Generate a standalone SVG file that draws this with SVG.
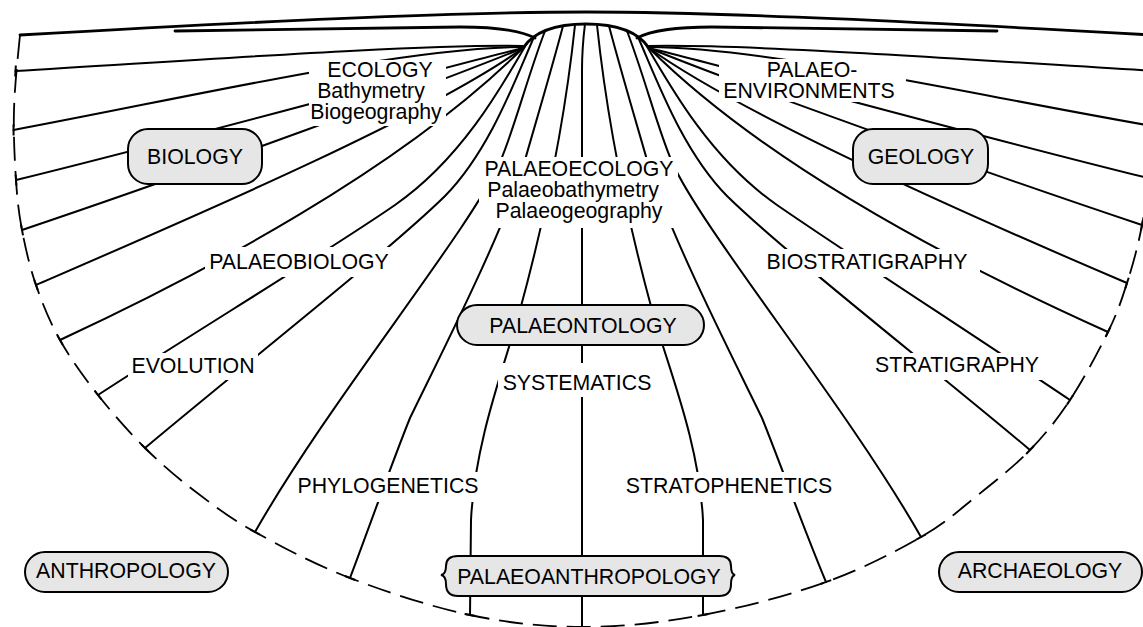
<svg xmlns="http://www.w3.org/2000/svg" width="1143" height="627" viewBox="0 0 1143 627">
<style>
.ln{fill:none;stroke:#000;stroke-width:2;stroke-linecap:round;stroke-linejoin:round}
.thick{fill:none;stroke:#000;stroke-width:2.8;stroke-linecap:round}
.arc{fill:none;stroke:#000;stroke-width:1.8;stroke-dasharray:24 10}
.tk{stroke:#000;stroke-width:2}
.bg{fill:#fff}
.node{fill:#e6e6e6;stroke:#000;stroke-width:2}
text{font-family:"Liberation Sans",Arial,Helvetica,sans-serif;font-size:21.3px;fill:#000;text-anchor:middle}
</style>
<rect width="1143" height="627" fill="#fff"/>
<g id="connectors">
<path class="arc" d="M20,35 C17.7,58.3 14.7,85.8 14,110 C13.3,134.2 14.7,160 16,180 C17.3,200 18.7,212.5 22,230 C25.3,247.5 29.7,266.7 36,285 C42.3,303.3 49.7,321.7 60,340 C70.3,358.3 83.8,377 98,395 C112.2,413 128.7,431.8 145,448 C161.3,464.2 177.7,478 196,492 C214.3,506 229.3,517.7 255,532 C280.7,546.3 314.2,564.2 350,578 C385.8,591.8 431,606.8 470,615 C509,623.2 545.2,627 584,627 C622.8,627 662.7,622.5 703,615 C743.3,607.5 789.7,595 826,582 C862.3,569 895.7,551.5 921,537 C946.3,522.5 959.8,509.5 978,495 C996.2,480.5 1014.7,465.8 1030,450 C1045.3,434.2 1057,419.7 1070,400 C1083,380.3 1098.5,351.5 1108,332 C1117.5,312.5 1121.3,300.8 1127,283 C1132.7,265.2 1137.8,247.2 1142,225 C1146.2,202.8 1151,181.7 1152,150 C1153,118.3 1150,65 1148,35"/>
<path class="thick" d="M20,35 C250,22 450,12 586,12 C722,12 922,22 1152,35"/>
<path class="thick" d="M175,31 L460,27 C490,27 520,30 535,38"/>
<path class="thick" d="M997,31 L712,27 C682,27 652,30 637,38"/>
<path class="thick" d="M523,48 C535,30 560,24 586,24 C612,24 637,30 649,48"/>
<path class="ln" d="M15.5,71 C200,60 420,44 523,46"/>
<path class="ln" d="M13.5,130 C200,95 400,48 523,47"/>
<path class="ln" d="M16,180 C200,135 440,68 523,48"/>
<path class="ln" d="M22,230 C200,170 440,82 523,48"/>
<path class="ln" d="M36,285 C200,214 430,115 523,48"/>
<path class="ln" d="M523,48 C400,170 200,275 60,340"/>
<path class="ln" d="M527,43 C500,90 460,160 395,205 C330,250 190,335 98,395"/>
<path class="ln" d="M534,37 C515,80 490,150 445,196 C390,250 250,360 145,448"/>
<path class="ln" d="M545,31 C528,75 514,130 500,162 C470,230 330,400 255,532"/>
<path class="ln" d="M563,26 C550,75 535,125 525,160 C505,230 433,370 410,418 C393,460 370,525 350,578"/>
<path class="ln" d="M575,25 C566,110 550,200 520,310 C505,365 475,440 471,520 L470,615"/>
<path class="ln" d="M585,24 C583,40 582,50 582,70 L582,627"/>
<path class="ln" d="M1156,71 C972,60 752,44 649,46"/>
<path class="ln" d="M1158,127 C972,95 772,48 649,47"/>
<path class="ln" d="M1156,180 C972,135 732,68 649,48"/>
<path class="ln" d="M1142,225 C966,166 732,82 649,48"/>
<path class="ln" d="M1127,283 C965,214 742,115 649,48"/>
<path class="ln" d="M649,48 C772,170 970,270 1108,332"/>
<path class="ln" d="M645,43 C672,90 712,160 777,205 C842,250 978,338 1070,400"/>
<path class="ln" d="M638,37 C657,80 682,150 727,196 C782,250 925,362 1030,450"/>
<path class="ln" d="M627,31 C644,75 658,130 672,162 C702,230 846,405 921,537"/>
<path class="ln" d="M609,26 C622,75 637,125 647,160 C667,230 739,370 762,418 C779,460 803,527 826,582"/>
<path class="ln" d="M597,25 C606,110 622,200 652,310 C667,365 699,440 703,520 L703,615"/>
<path class="tk" d="M15.8,65.5 L15.2,76.5 M13.5,124.5 L13.6,135.5 M15.6,174.5 L16.4,185.5 M21,224.6 L23,235.4 M34.2,279.8 L37.8,290.2 M57.3,335.2 L62.7,344.8 M94.6,390.7 L101.4,399.3 M141.1,444.1 L148.9,451.9 M250.2,529.3 L259.8,534.7 M344.9,576 L355.1,580 M464.6,613.9 L475.4,616.1 M697.6,616 L708.4,614 M820.8,583.9 L831.2,580.1 M916.2,539.7 L925.8,534.3 M1026.2,454 L1033.8,446 M1067,404.6 L1073,395.4 M1105.6,337 L1110.4,327 M1125.3,288.2 L1128.7,277.8 M1141,230.4 L1143,219.6"/>
</g>
<g id="label-ecology">
<rect class="bg" x="309" y="60" width="137" height="66"/>
<text x="380" y="77">ECOLOGY</text>
<text x="371" y="98">Bathymetry</text>
<text x="376" y="119">Biogeography</text>
</g>
<g id="label-palaeoenvironments">
<rect class="bg" x="719" y="59" width="187" height="43"/>
<text x="812" y="77">PALAEO-</text>
<text x="809" y="97.5">ENVIRONMENTS</text>
</g>
<g id="label-palaeoecology">
<rect class="bg" x="479" y="157" width="199" height="71"/>
<text x="579" y="176">PALAEOECOLOGY</text>
<text x="573" y="197">Palaeobathymetry</text>
<text x="579" y="218">Palaeogeography</text>
</g>
<g id="label-palaeobiology">
<rect class="bg" x="205" y="247" width="188" height="30"/>
<text x="299" y="269">PALAEOBIOLOGY</text>
</g>
<g id="label-biostratigraphy">
<rect class="bg" x="762" y="249" width="218" height="28"/>
<text x="867" y="269">BIOSTRATIGRAPHY</text>
</g>
<g id="label-evolution">
<rect class="bg" x="128" y="353" width="130" height="27"/>
<text x="193" y="373">EVOLUTION</text>
</g>
<g id="label-stratigraphy">
<rect class="bg" x="870" y="353" width="173" height="27"/>
<text x="957" y="372">STRATIGRAPHY</text>
</g>
<g id="label-systematics">
<rect class="bg" x="498" y="363" width="158" height="34"/>
<text x="577" y="390">SYSTEMATICS</text>
</g>
<g id="label-phylogenetics">
<rect class="bg" x="293" y="472" width="190" height="30"/>
<text x="388" y="493">PHYLOGENETICS</text>
</g>
<g id="label-stratophenetics">
<rect class="bg" x="620" y="472" width="218" height="30"/>
<text x="729" y="493">STRATOPHENETICS</text>
</g>
<g id="node-biology">
<rect class="node" x="128" y="129" width="134" height="55" rx="20"/>
<text x="195" y="164">BIOLOGY</text>
</g>
<g id="node-geology">
<rect class="node" x="853" y="129" width="135" height="55" rx="20"/>
<text x="921" y="164">GEOLOGY</text>
</g>
<g id="node-palaeontology">
<rect class="node" x="457" y="305" width="247" height="40" rx="20"/>
<text x="583" y="333">PALAEONTOLOGY</text>
</g>
<g id="node-anthropology">
<rect class="node" x="25" y="552" width="203" height="40" rx="20"/>
<text x="126" y="578">ANTHROPOLOGY</text>
</g>
<g id="node-archaeology">
<rect class="node" x="939" y="552" width="203" height="40" rx="20"/>
<text x="1040" y="578">ARCHAEOLOGY</text>
</g>
<g id="node-palaeoanthropology">
<path class="node" d="M458,556 H719 Q731,556 731,566 Q731,574 735,575 Q731,576 731,584 Q731,596 719,596 H458 Q446,596 446,584 Q446,576 441,575 Q446,574 446,566 Q446,556 458,556 Z"/>
<text x="589" y="584">PALAEOANTHROPOLOGY</text>
</g>
</svg>
